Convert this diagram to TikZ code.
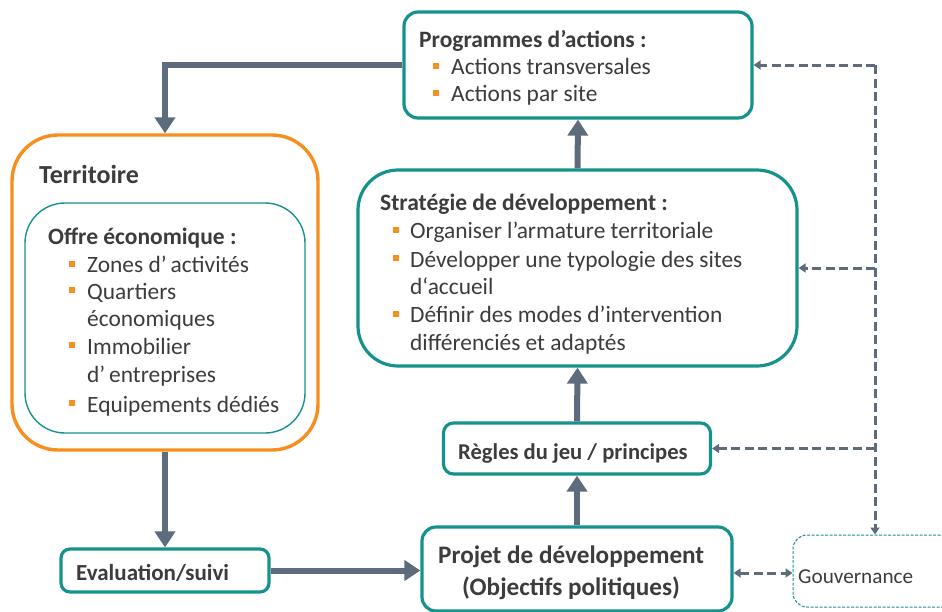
\documentclass[tikz,border=0pt]{standalone}
\usepackage{fontspec}
\setmainfont{Carlito}
\usetikzlibrary{arrows.meta}
\definecolor{teal1}{RGB}{22,146,142}
\definecolor{orng}{RGB}{247,143,30}
\definecolor{arrg}{RGB}{93,107,124}
\definecolor{txt}{RGB}{60,60,60}
\tikzset{
  box/.style={draw=teal1, line width=3.2pt, rounded corners=#1, fill=white, inner sep=0pt},
  box/.default=12pt,
  tx/.style={inner sep=0pt, anchor=base west, text=txt, font=\fontsize{23.4}{28}\selectfont},
  tb/.style={tx, font=\fontsize{23.5}{28}\selectfont\bfseries},
  bul/.style={fill=orng, inner sep=0pt, minimum size=5.5pt},
  arr/.style={draw=arrg, line width=6pt, -{Triangle[width=20pt,length=16pt]}},
  darr/.style={draw=arrg, line width=3pt, dash pattern=on 9pt off 4.5pt, -{Triangle[width=9pt,length=7pt]}},
}
\begin{document}
\begin{tikzpicture}[x=1pt,y=-1pt]
\useasboundingbox (0,0) rectangle (942,611);
\clip (0,0) rectangle (942,611);
% boxes
\node[box=14pt, minimum width=348pt, minimum height=106pt] (prog) at (578,65) {};
\node[draw=orng, line width=3.4pt, rounded corners=46pt, minimum width=306pt, minimum height=315pt, inner sep=0pt] (terr) at (165,292.5) {};
\node[draw=teal1, line width=1.4pt, rounded corners=40pt, minimum width=280pt, minimum height=230pt, inner sep=0pt] (offre) at (165,318) {};
\node[box=40pt, minimum width=439pt, minimum height=196pt] (strat) at (577.5,268) {};
\node[box=10pt, minimum width=267pt, minimum height=51pt] (regl) at (577,448.5) {};
\node[box=14pt, minimum width=310pt, minimum height=84pt] (proj) at (577,569) {};
\node[box=9pt, minimum width=208pt, minimum height=43pt] (eval) at (165,570.5) {};
\node[draw=teal1, line width=1pt, dash pattern=on 3pt off 1.5pt, rounded corners=14pt, minimum width=220pt, minimum height=72pt, inner sep=0pt] (gouv) at (903,571) {};
% texts
\node[tb] (tprog) at (419,47) {Programmes d’actions :};
\node[bul] (b1) at (436,66) {};
\node[tx] (tp1) at (451,74) {Actions transversales};
\node[bul] (b2) at (436,93) {};
\node[tx] (tp2) at (451,101) {Actions par site};

\node[tb, font=\fontsize{26}{30}\selectfont\bfseries] (tterr) at (39,183) {Territoire};
\node[tb] (toffre) at (48,244) {Offre économique :};
\node[bul] (b3) at (72,264) {};
\node[tx] (to1) at (87,272) {Zones d’\,activités};
\node[bul] (b4) at (72,290) {};
\node[tx] (to2) at (87,299) {Quartiers};
\node[tx] (to3) at (87,326) {économiques};
\node[bul] (b5) at (72,345) {};
\node[tx] (to4) at (87,354) {Immobilier};
\node[tx] (to5) at (87,382) {d’\,entreprises};
\node[bul] (b6) at (72,403) {};
\node[tx] (to6) at (87,412) {Equipements dédiés};

\node[tb] (tstrat) at (380,210) {Stratégie de développement :};
\node[bul] (b7) at (396,230) {};
\node[tx] (ts1) at (410,238) {Organiser l’armature territoriale};
\node[bul] (b8) at (396,258) {};
\node[tx] (ts2) at (410,267) {Développer une typologie des sites};
\node[tx] (ts3) at (410,294) {d‘accueil};
\node[bul] (b9) at (396,314) {};
\node[tx] (ts4) at (410,322) {Définir des modes d’intervention};
\node[tx] (ts5) at (410,350) {différenciés et adaptés};

\node[tb, font=\fontsize{22.6}{28}\selectfont\bfseries] (tregl) at (458,459) {Règles du jeu / principes};
\node[tb, font=\fontsize{25.2}{30}\selectfont\bfseries] (tproj1) at (438,563) {Projet de développement};
\node[tb, font=\fontsize{25.2}{30}\selectfont\bfseries] (tproj2) at (462,595) {(Objectifs politiques)};
\node[tb, font=\fontsize{23}{28}\selectfont\bfseries] (teval) at (76,580) {Evaluation/suivi};
\node[tx, font=\fontsize{21.2}{26}\selectfont] (tgouv) at (798,583) {Gouvernance};
% solid connectors
\draw[arr] (prog.west) -| (terr.north);
\draw[arr] (strat.north) -- (prog.south);
\draw[arr] (regl.north) -- (strat.south);
\draw[arr] (proj.north) -- (regl.north |- regl.south);
\draw[arr] (terr.south) -- (eval.north);
\draw[arr] (eval.east) -- (eval.east -| proj.west);
% dashed connectors
\coordinate (c1) at (875,65);
\coordinate (c2) at (875,268);
\coordinate (c3) at (875,448.5);
\draw[darr] (c1) -- (prog.east);
\draw[darr] (c1) -- (c1 |- gouv.north);
\draw[darr] (c2) -- (strat.east);
\draw[darr] (c3) -- (regl.east);
\draw[darr, {Triangle[width=9pt,length=7pt]}-{Triangle[width=9pt,length=7pt]}] (proj.east |- 0,573) -- (gouv.west |- 0,573);
\end{tikzpicture}
\end{document}
